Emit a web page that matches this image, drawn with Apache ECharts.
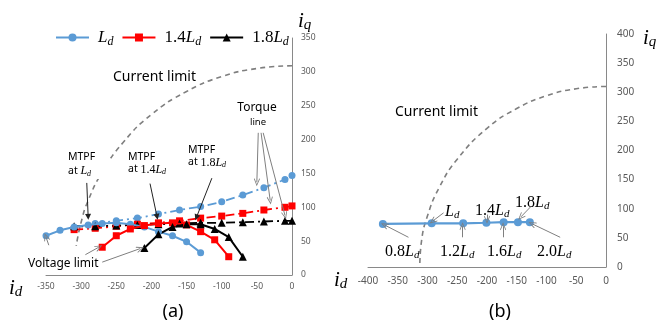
<!DOCTYPE html>
<html>
<head>
<meta charset="utf-8">
<script src="https://cdn.jsdelivr.net/npm/echarts@6/dist/echarts.min.js"></script>
<style>
  html, body { margin: 0; padding: 0; background: #fff; }
  #chart { width: 672px; height: 325px; }
</style>
</head>
<body>
<div id="chart"></div>
<script>
// (a) voltage limit curves (solid) and torque lines (dash-dot)
const ldVoltX = [-350, -330, -310, -290, -270, -250, -230, -210, -190, -170, -150, -130];
const ldVoltY = [58, 66, 71, 74, 76, 77, 75, 71, 64, 58, 49, 33];
const ldTorqX = [-280, -250, -220, -190, -160, -130, -100, -70, -40, -10, 0];
const ldTorqY = [76, 80, 84, 90, 96, 101, 108, 118, 129, 141, 147];

const l14VoltX = [-270, -250, -230, -210, -190, -170, -150, -130, -110, -90];
const l14VoltY = [41, 58, 68, 73, 76, 77, 74, 64, 52, 27];
const l14TorqX = [-310, -280, -250, -220, -190, -160, -130, -100, -70, -40, -10, 0];
const l14TorqY = [67, 69, 72, 75, 77, 80, 84, 87, 91, 96, 100, 102];

const l18VoltX = [-210, -190, -170, -150, -130, -110, -90, -70];
const l18VoltY = [40, 60, 71, 75, 75, 68, 56, 27];
const l18TorqX = [-310, -280, -250, -220, -190, -160, -130, -100, -70, -40, -10, 0];
const l18TorqY = [72, 72, 73, 74, 75, 76, 77, 77, 78, 79, 80, 80];

// current limit circles
const curAX = [0, -50, -100, -150, -200, -240, -270, -290, -300, -307];
const curAY = [309, 305, 293, 271, 237, 196, 152, 110, 78, 43];
const curBX = [0, -50, -100, -150, -200, -250, -280, -300, -310, -313];
const curBY = [310, 306, 294, 272, 238, 185, 137, 88, 45, 0];

// (b) operating points
const bX = [-375, -293, -240, -201, -172, -148, -128];
const bY = [74, 75, 75, 76, 77, 77, 77];

// annotation arrows, in data units [from, to]
const arrowsA = [
  [[-48, 210], [-50, 137]], [[-44, 210], [-31, 110]], [[-41, 210], [-10, 88]],
  [[-346, 44], [-350, 56]], [[-294, 30], [-275, 41]], [[-270, 19], [-216, 39]]
];
const mtpfArrows = [
  [[-292, 136], [-290, 86]], [[-202, 135], [-192, 86]], [[-114, 143], [-136, 85]]
];
const arrowsB = [
  [[-273, 93], [-291, 79]], [[-200, 90], [-200, 81]], [[-127, 103], [-143, 86]],
  [[-332, 51], [-372, 72]], [[-241, 51], [-241, 70]], [[-173, 51], [-173, 70]],
  [[-77, 51], [-124, 74]]
];

const BLUE = '#5B9BD5', RED = '#FF0000', BLACK = '#000000', GREY = '#898989';
const pts = (xs, ys) => xs.map((x, i) => [x, ys[i]]);
const openHead = 'path://M5,0L10,9L9,10L5,2.5L1,10L0,9Z';

const mathRich = (size) => ({
  n: { fontFamily: 'Liberation Serif', fontSize: size, color: '#000' },
  L: { fontFamily: 'Liberation Serif', fontStyle: 'italic', fontSize: size, color: '#000' },
  s: { fontFamily: 'Liberation Serif', fontStyle: 'italic', fontSize: Math.round(size * 0.7), color: '#000', padding: [Math.round(size * 0.45), 0, 0, 0] },
  t: { fontFamily: 'Noto Sans', fontSize: 10.5, color: '#000' }
});

const arrowLines = (list, head, color) => list.map(a => [
  { coord: a[0], symbol: 'none' },
  { coord: a[1], symbol: head, symbolSize: head === 'triangle' ? 6 : [6, 8], lineStyle: { color: color, width: 1, type: 'solid' } }
]);

const chart = echarts.init(document.getElementById('chart'));

function axisX(grid, min, size, margin) {
  return {
    gridIndex: grid, type: 'value', min: min, max: 0, interval: 50,
    axisLine: { show: true, onZero: false, lineStyle: { color: GREY } },
    axisTick: { show: false }, splitLine: { show: false },
    axisLabel: { fontSize: size, color: '#595959', fontFamily: 'Noto Sans', margin: margin }
  };
}
function axisY(grid, max, size, margin) {
  return {
    gridIndex: grid, type: 'value', position: 'right', min: 0, max: max, interval: 50,
    axisLine: { show: true, onZero: false, lineStyle: { color: GREY } },
    axisTick: { show: false }, splitLine: { show: false },
    axisLabel: { fontSize: size, color: '#595959', fontFamily: 'Noto Sans', margin: margin }
  };
}

function line(name, xs, ys, color, symbol, size, dashed) {
  return {
    name: name, type: 'line', xAxisIndex: 0, yAxisIndex: 0,
    data: pts(xs, ys), symbol: symbol, symbolSize: size,
    itemStyle: { color: color },
    lineStyle: { color: color, width: dashed ? 1.8 : 2, type: dashed ? [9, 4, 2, 4] : 'solid' },
    z: dashed ? 3 : 4
  };
}

function text(x, y, str, opts) {
  return {
    type: 'text', x: x, y: y, z: 20,
    style: Object.assign({ text: str, fill: '#000', align: 'left', verticalAlign: 'middle',
      fontFamily: 'Noto Sans', fontSize: 12 }, opts || {})
  };
}

chart.setOption({
  animation: false,
  grid: [
    { left: 46, top: 38, width: 246, height: 237, outerBoundsMode: 'none' },
    { left: 368, top: 34, width: 238, height: 233, outerBoundsMode: 'none' }
  ],
  xAxis: [axisX(0, -350, 8.5, 7), axisX(1, -400, 10, 9)],
  yAxis: [axisY(0, 350, 8.5, 9), axisY(1, 400, 10, 11)],
  legend: {
    left: 50, top: 24, itemWidth: 33, itemHeight: 10, itemGap: 8,
    data: ['Ld', '1.4Ld', '1.8Ld'],
    formatter: name => ({ 'Ld': '{L|L}{s|d}', '1.4Ld': '{n|1.4}{L|L}{s|d}', '1.8Ld': '{n|1.8}{L|L}{s|d}' })[name],
    textStyle: { padding: [0, 0, 0, 4], rich: mathRich(17) }
  },
  series: [
    line('Ld', ldVoltX, ldVoltY, BLUE, 'circle', 7, false),
    line('1.4Ld', l14VoltX, l14VoltY, RED, 'rect', 7, false),
    line('1.8Ld', l18VoltX, l18VoltY, BLACK, 'triangle', 8, false),
    line('Ld', ldTorqX, ldTorqY, BLUE, 'circle', 7, true),
    line('1.4Ld', l14TorqX, l14TorqY, RED, 'rect', 7, true),
    line('1.8Ld', l18TorqX, l18TorqY, BLACK, 'triangle', 8, true),
    {
      name: 'Current limit a', type: 'line', xAxisIndex: 0, yAxisIndex: 0,
      data: pts(curAX, curAY), smooth: true, symbol: 'none',
      lineStyle: { color: '#7f7f7f', width: 1.6, type: [5, 4] }, z: 2,
      markLine: {
        silent: true, animation: false, label: { show: false },
        lineStyle: { color: '#7f7f7f', width: 1, type: 'solid' },
        data: arrowLines(arrowsA, openHead, '#7f7f7f').concat(arrowLines(mtpfArrows, 'triangle', '#222'))
      }
    },
    {
      name: 'Current limit b', type: 'line', xAxisIndex: 1, yAxisIndex: 1,
      data: pts(curBX, curBY), smooth: true, symbol: 'none',
      lineStyle: { color: '#7f7f7f', width: 1.6, type: [5, 4] }, z: 2,
      markLine: {
        silent: true, animation: false, label: { show: false },
        lineStyle: { color: '#7f7f7f', width: 1, type: 'solid' },
        data: arrowLines(arrowsB, openHead, '#7f7f7f')
      }
    },
    {
      name: 'b', type: 'line', xAxisIndex: 1, yAxisIndex: 1,
      data: pts(bX, bY), symbol: 'circle', symbolSize: 8,
      itemStyle: { color: BLUE }, lineStyle: { color: BLUE, width: 2.2 }, z: 4
    }
  ],
  graphic: [
    text(113, 77, 'Current limit', { fontSize: 14 }),
    text(257, 108, 'Torque', { fontSize: 12, align: 'center' }),
    text(258, 122, 'line', { fontSize: 9.5, align: 'center' }),
    text(67, 164, '{t|MTPF}\n{t|at }{L|L}{s|d}', { rich: mathRich(12), lineHeight: 14, backgroundColor: '#fff', padding: [1, 14, 1, 1] }),
    text(128, 164, '{t|MTPF}\n{t|at }{n|1.4}{L|L}{s|d}', { rich: mathRich(12) }),
    text(188, 157, '{t|MTPF}\n{t|at }{n|1.8}{L|L}{s|d}', { rich: mathRich(12) }),
    text(28, 264, 'Voltage limit', { fontSize: 12 }),
    text(173, 312, '(a)', { fontSize: 18, align: 'center' }),
    text(500, 312, '(b)', { fontSize: 18, align: 'center' }),
    text(298, 21, '{L|i}{s|q}', { rich: mathRich(21) }),
    text(9, 288, '{L|i}{s|d}', { rich: mathRich(21) }),
    text(643, 38, '{L|i}{s|q}', { rich: mathRich(21) }),
    text(334, 280, '{L|i}{s|d}', { rich: mathRich(21) }),
    text(395, 112, 'Current limit', { fontSize: 14 }),
    text(445, 212, '{L|L}{s|d}', { rich: mathRich(16) }),
    text(475, 211, '{n|1.4}{L|L}{s|d}', { rich: mathRich(16) }),
    text(515, 203, '{n|1.8}{L|L}{s|d}', { rich: mathRich(16) }),
    text(385, 252, '{n|0.8}{L|L}{s|d}', { rich: mathRich(16) }),
    text(440, 252, '{n|1.2}{L|L}{s|d}', { rich: mathRich(16) }),
    text(487, 252, '{n|1.6}{L|L}{s|d}', { rich: mathRich(16) }),
    text(537, 252, '{n|2.0}{L|L}{s|d}', { rich: mathRich(16) })
  ]
});
</script>
</body>
</html>
